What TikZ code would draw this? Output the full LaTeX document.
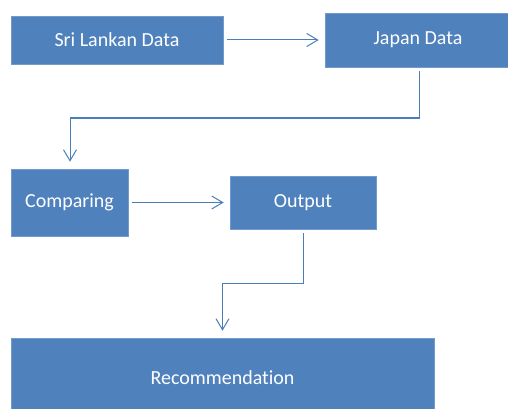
\documentclass[tikz,border=0pt]{standalone}
\usepackage{fontspec}
\setmainfont[Ligatures=NoCommon]{Carlito}
\usetikzlibrary{arrows.meta,calc}
\definecolor{boxblue}{HTML}{4F81BD}
\definecolor{linkblue}{HTML}{4A7EBB}
\begin{document}
\begin{tikzpicture}[x=1pt,y=1pt,
  box/.style={fill=boxblue, draw=boxblue!80!white, line width=0.6pt, text=white,
    font=\fontsize{20}{24}\selectfont, inner sep=0pt, anchor=center},
  conn/.style={draw=linkblue, line width=1pt, -{Straight Barb[length=11pt,width=13pt,line width=1pt]}}]
\useasboundingbox (0,0) rectangle (508,-409);
\node[box, minimum width=212pt, minimum height=48pt] (sri) at (117,-40) {Sri Lankan Data};
\node[box, minimum width=186pt, minimum height=54pt] (jap) at (418,-40) {Japan Data};
\node[box, minimum width=117pt, minimum height=67pt] (cmp) at (69.5,-202.5) {Comparing};
\node[box, minimum width=146pt, minimum height=53pt] (out) at (303,-202.5) {Output};
\node[box, minimum width=423pt, minimum height=80pt] (rec) at (222.5,-378) {Recommendation};
\coordinate (c1) at (419,-118);
\coordinate (c2) at (303,-283);
\draw[conn, shorten <=4pt, shorten >=6pt] (sri.east) -- (jap.west);
\draw[conn] ([xshift=1pt,yshift=-4pt]jap.south) -- (c1) -| ([xshift=0.5pt,yshift=7pt]cmp.north);
\draw[conn, shorten <=4pt, shorten >=6pt] (cmp.east) -- (out.west);
\draw[conn] ([yshift=-4pt]out.south) -- (c2) -| ([yshift=7pt]rec.north);
\end{tikzpicture}
\end{document}
